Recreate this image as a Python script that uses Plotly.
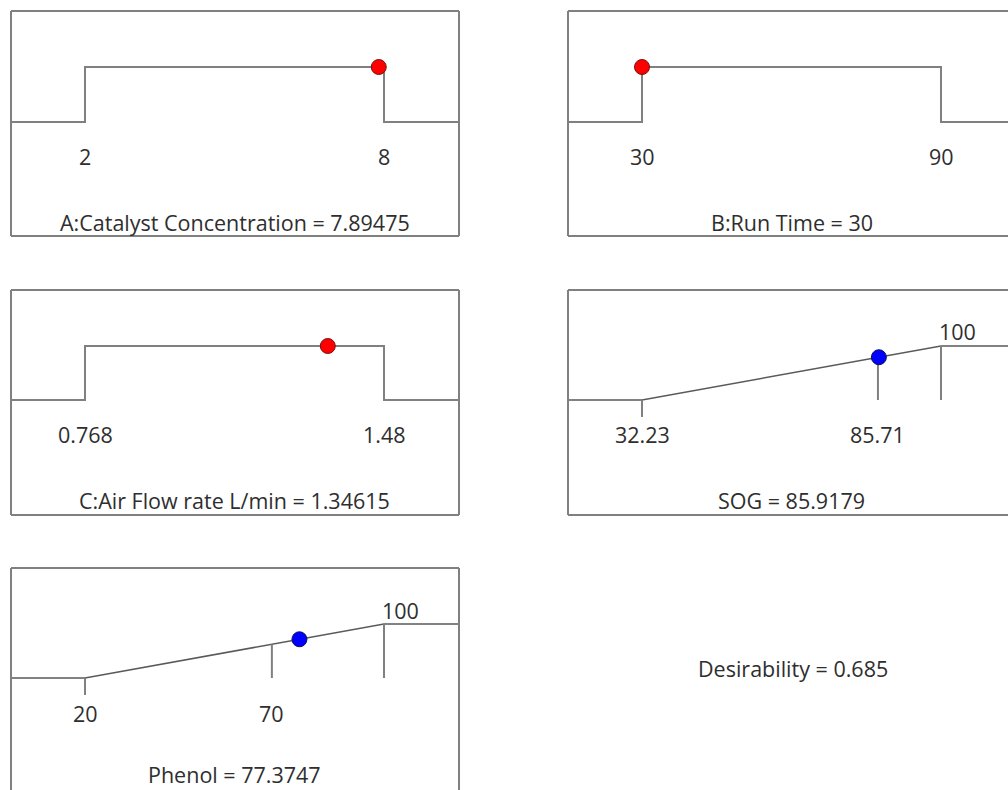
import plotly.graph_objects as go

W, H = 1008, 790

# ---- data ----
factor_names = ["A:Catalyst Concentration", "B:Run Time", "C:Air Flow rate L/min"]
factor_low = [2, 30, 0.768]
factor_high = [8, 90, 1.48]
factor_low_labels = ["2", "30", "0.768"]
factor_high_labels = ["8", "90", "1.48"]
factor_values = [7.89475, 30, 1.34615]
factor_value_labels = ["7.89475", "30", "1.34615"]

response_names = ["SOG", "Phenol"]
response_low = [32.23, 20]
response_high = [100, 100]
response_mid = [85.71, 70]
response_low_labels = ["32.23", "20"]
response_mid_labels = ["85.71", "70"]
response_high_labels = ["100", "100"]
response_values = [85.9179, 77.3747]
response_value_labels = ["85.9179", "77.3747"]

desirability = 0.685

# ---- layout geometry (pixels) ----
FONT = "Open Sans"
FS = 21.5
TXT_COL = "#2e2e2e"
LINE_COL = "#808080"
RAMP_COL = "#5a5a5a"

# panels: (left, right, top, bottom, y_low_px, y_high_px, show_right, show_bottom)
panels = [
    (11, 459, 11, 236, 122, 67, True, True),
    (568, 1017, 11, 236, 122, 67, False, True),
    (11, 459, 290, 515, 400, 346, True, True),
    (568, 1017, 290, 515, 400, 346, False, True),
    (11, 459, 568, 793, 678, 624, True, False),
]
SPAN_PX = 299

fig = go.Figure()


def add_axes(i, lo, hi, geom):
    left, right, top, bottom, ylo, yhi, show_r, show_b = geom
    unit_x = SPAN_PX / (hi - lo)
    vis_right = min(right, W)
    vis_bottom = min(bottom, H)
    x0 = lo - 74 / unit_x
    x1 = lo + (vis_right - (left + 74)) / unit_x
    unit_y = ylo - yhi
    y0 = -(vis_bottom - ylo) / unit_y
    y1 = (ylo - top) / unit_y
    sfx = "" if i == 1 else str(i)
    xa = dict(domain=[left / W, vis_right / W], range=[x0, x1], showgrid=False,
              zeroline=False, showticklabels=False, ticks="", anchor="y" + sfx,
              showline=False, fixedrange=True)
    ya = dict(domain=[1 - vis_bottom / H, 1 - top / H], range=[y0, y1], showgrid=False,
              zeroline=False, showticklabels=False, ticks="", anchor="x" + sfx,
              showline=False, fixedrange=True)
    fig.update_layout(**{"xaxis" + sfx: xa, "yaxis" + sfx: ya})
    xr, yr = "x" + sfx, "y" + sfx
    # frame
    edges = [((0, 1), (1, 1)), ((0, 0), (0, 1))]
    if show_r:
        edges.append(((1, 1), (0, 1)))
    if show_b:
        edges.append(((0, 1), (0, 0)))
    for (ax0, ax1), (ay0, ay1) in edges:
        fig.add_shape(type="line", xref=xr + " domain", yref=yr + " domain",
                      x0=ax0, x1=ax1, y0=ay0, y1=ay1,
                      line=dict(color=LINE_COL, width=2))
    return xr, yr, x0, x1, y0, unit_y, show_b


def add_title(xr, yr, xc, y0, uy, show_b, text):
    if show_b:
        fig.add_annotation(x=xc, y=-101 / uy, xref=xr, yref=yr, text=text,
                           showarrow=False, font=dict(family=FONT, size=FS, color=TXT_COL),
                           xanchor="center", yanchor="middle")
    else:
        fig.add_annotation(x=xc, y=y0, xref=xr, yref=yr, text=text,
                           showarrow=False, font=dict(family=FONT, size=FS, color=TXT_COL),
                           xanchor="center", yanchor="bottom", borderpad=0)


idx = 1
for k in range(3):
    geom = panels[k]
    lo, hi = factor_low[k], factor_high[k]
    xr, yr, x0, x1, y0, uy, sb = add_axes(idx, lo, hi, geom)
    fig.add_trace(go.Scatter(x=[x0, lo, lo, hi, hi, x1], y=[0, 0, 1, 1, 0, 0],
                             mode="lines", line=dict(color=LINE_COL, width=2),
                             xaxis=xr, yaxis=yr, hoverinfo="skip", showlegend=False))
    fig.add_trace(go.Scatter(x=[factor_values[k]], y=[1], mode="markers",
                             marker=dict(color="#ff0000", size=15,
                                         line=dict(color="#7a1010", width=1)),
                             xaxis=xr, yaxis=yr, showlegend=False))
    for val, lab in [(lo, factor_low_labels[k]), (hi, factor_high_labels[k])]:
        fig.add_annotation(x=val, y=-35 / uy, xref=xr, yref=yr, text=lab,
                           showarrow=False, font=dict(family=FONT, size=FS, color=TXT_COL),
                           xanchor="center", yanchor="middle")
    add_title(xr, yr, (lo + hi) / 2, y0, uy, sb,
              f"{factor_names[k]} = {factor_value_labels[k]}")
    idx += 1

for k in range(2):
    geom = panels[3 + k]
    lo, hi, mid = response_low[k], response_high[k], response_mid[k]
    xr, yr, x0, x1, y0, uy, sb = add_axes(idx, lo, hi, geom)
    ramp = lambda v: (v - lo) / (hi - lo)
    fig.add_trace(go.Scatter(x=[x0, lo, hi, x1], y=[0, 0, 1, 1], mode="lines",
                             line=dict(color=RAMP_COL, width=1.5),
                             xaxis=xr, yaxis=yr, hoverinfo="skip", showlegend=False))
    # ticks
    fig.add_trace(go.Scatter(x=[lo, lo, None, mid, mid, None, hi, hi],
                             y=[0, -17 / uy, None, 0, ramp(mid), None, 0, 1],
                             mode="lines", line=dict(color=LINE_COL, width=2),
                             xaxis=xr, yaxis=yr, hoverinfo="skip", showlegend=False))
    fig.add_trace(go.Scatter(x=[response_values[k]], y=[ramp(response_values[k])],
                             mode="markers",
                             marker=dict(color="#0000ff", size=15,
                                         line=dict(color="#10105a", width=1)),
                             xaxis=xr, yaxis=yr, showlegend=False))
    for val, lab in [(lo, response_low_labels[k]), (mid, response_mid_labels[k])]:
        fig.add_annotation(x=val, y=-35 / uy, xref=xr, yref=yr, text=lab,
                           showarrow=False, font=dict(family=FONT, size=FS, color=TXT_COL),
                           xanchor="center", yanchor="middle")
    fig.add_annotation(x=hi, y=1 + 14 / uy, xref=xr, yref=yr, text=response_high_labels[k],
                       showarrow=False, font=dict(family=FONT, size=FS, color=TXT_COL),
                       xanchor="left", yanchor="middle", xshift=-4)
    add_title(xr, yr, (lo + hi) / 2, y0, uy, sb,
              f"{response_names[k]} = {response_value_labels[k]}")
    idx += 1

fig.add_annotation(x=793 / W, y=1 - 668 / H, xref="paper", yref="paper",
                   text=f"Desirability = {desirability}", showarrow=False,
                   font=dict(family=FONT, size=FS, color=TXT_COL),
                   xanchor="center", yanchor="middle")

fig.update_layout(width=W, height=H, margin=dict(l=0, r=0, t=0, b=0),
                  paper_bgcolor="white", plot_bgcolor="white", showlegend=False)

fig.write_html("out.html")
